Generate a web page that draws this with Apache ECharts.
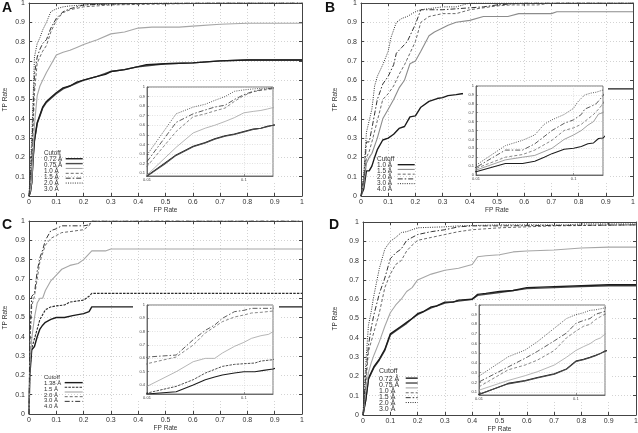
<!DOCTYPE html>
<html><head><meta charset="utf-8">
<script src="https://cdn.jsdelivr.net/npm/echarts@6/dist/echarts.min.js"></script>
<style>html,body{margin:0;padding:0;background:#fff}#c{width:638px;height:433px}</style>
</head><body><div id="c"></div>
<script>
// ---------- series names ----------
const cutoffsAD = ['0.72 Å','0.75 Å','1.0 Å','1.5 Å','2.0 Å','3.0 Å'];
const cutoffsB  = ['1.0 Å','1.5 Å','2.0 Å','3.0 Å','4.0 Å'];
const cutoffsC  = ['1.38 Å','1.5 Å','2.0 Å','3.0 Å','4.0 Å'];

// ---------- Panel A: [FP rate, TP rate] ----------
const A_072 = [[0,0],[0.005,0.02],[0.01,0.07],[0.015,0.2],[0.02,0.29],[0.03,0.38],[0.04,0.42],[0.05,0.46],[0.064,0.49],[0.08,0.51],[0.1,0.535],[0.125,0.56],[0.15,0.57],[0.175,0.59],[0.2,0.6],[0.25,0.62],[0.28,0.63],[0.3,0.645],[0.35,0.655],[0.4,0.67],[0.43,0.68],[0.5,0.685],[0.6,0.69],[0.7,0.7],[0.8,0.705],[1,0.705]];
const A_075 = [[0,0],[0.005,0.02],[0.01,0.07],[0.015,0.19],[0.02,0.285],[0.03,0.375],[0.04,0.415],[0.05,0.455],[0.064,0.485],[0.08,0.505],[0.1,0.53],[0.125,0.555],[0.15,0.57],[0.175,0.585],[0.2,0.6],[0.25,0.62],[0.3,0.645],[0.35,0.655],[0.4,0.67],[0.5,0.685],[0.6,0.69],[0.7,0.7],[0.8,0.705],[1,0.705]];
const A_10  = [[0,0],[0.005,0.03],[0.01,0.08],[0.02,0.37],[0.03,0.52],[0.04,0.57],[0.05,0.6],[0.064,0.64],[0.08,0.68],[0.1,0.73],[0.125,0.745],[0.15,0.755],[0.175,0.77],[0.2,0.785],[0.25,0.81],[0.3,0.84],[0.35,0.85],[0.4,0.87],[0.45,0.875],[0.55,0.875],[0.6,0.88],[0.7,0.89],[0.8,0.895],[1,0.895]];
const A_15  = [[0,0],[0.005,0.08],[0.01,0.17],[0.02,0.535],[0.03,0.69],[0.04,0.72],[0.05,0.75],[0.064,0.78],[0.08,0.85],[0.1,0.91],[0.125,0.95],[0.15,0.965],[0.2,0.98],[0.3,0.99],[0.5,0.995],[0.7,1],[1,1]];
const A_20  = [[0,0],[0.005,0.1],[0.01,0.22],[0.02,0.63],[0.03,0.72],[0.04,0.76],[0.05,0.79],[0.064,0.81],[0.08,0.87],[0.1,0.92],[0.125,0.955],[0.15,0.97],[0.2,0.99],[0.3,0.995],[0.6,1],[1,1]];
const A_30  = [[0,0],[0.005,0.15],[0.01,0.29],[0.02,0.72],[0.03,0.79],[0.04,0.82],[0.05,0.86],[0.064,0.9],[0.08,0.955],[0.1,0.97],[0.125,0.98],[0.15,0.985],[0.2,0.99],[0.3,0.995],[0.5,1],[1,1]];

// ---------- Panel B ----------
const B_10 = [[0,0],[0.005,0.02],[0.01,0.037],[0.02,0.13],[0.03,0.13],[0.04,0.155],[0.05,0.2],[0.06,0.24],[0.08,0.29],[0.1,0.3],[0.12,0.32],[0.14,0.35],[0.16,0.36],[0.18,0.41],[0.2,0.415],[0.22,0.46],[0.25,0.49],[0.28,0.505],[0.3,0.51],[0.32,0.52],[0.35,0.525],[0.37,0.53],[0.5,0.54],[0.7,0.55],[0.9,0.555],[1,0.555]];
const B_15 = [[0,0],[0.005,0.03],[0.01,0.055],[0.02,0.17],[0.03,0.2],[0.04,0.22],[0.06,0.3],[0.08,0.4],[0.1,0.45],[0.12,0.5],[0.14,0.56],[0.16,0.6],[0.18,0.685],[0.2,0.7],[0.22,0.75],[0.25,0.83],[0.27,0.85],[0.3,0.87],[0.32,0.885],[0.35,0.9],[0.4,0.91],[0.45,0.93],[0.54,0.93],[0.58,0.945],[0.7,0.945],[0.72,0.955],[1,0.955]];
const B_20 = [[0,0],[0.005,0.04],[0.01,0.074],[0.02,0.2],[0.03,0.23],[0.04,0.28],[0.06,0.39],[0.08,0.5],[0.1,0.53],[0.12,0.57],[0.14,0.63],[0.16,0.68],[0.18,0.74],[0.2,0.8],[0.22,0.9],[0.25,0.93],[0.3,0.945],[0.35,0.945],[0.4,0.965],[0.5,0.985],[0.55,0.99],[0.65,0.99],[0.7,1],[1,1]];
const B_30 = [[0,0],[0.005,0.05],[0.01,0.085],[0.02,0.28],[0.03,0.28],[0.04,0.35],[0.06,0.5],[0.08,0.58],[0.1,0.62],[0.12,0.68],[0.13,0.74],[0.15,0.77],[0.17,0.8],[0.2,0.89],[0.22,0.965],[0.3,0.965],[0.35,0.97],[0.4,0.975],[0.45,0.98],[0.5,0.99],[0.6,1],[1,1]];
const B_40 = [[0,0],[0.005,0.06],[0.01,0.11],[0.02,0.33],[0.03,0.39],[0.04,0.45],[0.05,0.57],[0.06,0.62],[0.08,0.68],[0.1,0.75],[0.11,0.82],[0.13,0.9],[0.15,0.92],[0.17,0.93],[0.2,0.955],[0.22,0.965],[0.3,0.98],[0.35,0.98],[0.4,1],[1,1]];

// ---------- Panel C ----------
const C_138 = [[0,0],[0.003,0.2],[0.01,0.333],[0.02,0.35],[0.03,0.4],[0.04,0.44],[0.05,0.46],[0.06,0.475],[0.08,0.49],[0.1,0.5],[0.13,0.5],[0.16,0.51],[0.2,0.52],[0.22,0.53],[0.23,0.555],[1,0.555]];
const C_15  = [[0,0],[0.003,0.22],[0.01,0.34],[0.02,0.39],[0.03,0.44],[0.04,0.49],[0.06,0.54],[0.08,0.555],[0.1,0.56],[0.13,0.565],[0.15,0.58],[0.2,0.59],[0.22,0.61],[0.23,0.625],[1,0.625]];
const C_20  = [[0,0],[0.003,0.25],[0.01,0.39],[0.02,0.5],[0.03,0.575],[0.04,0.6],[0.05,0.6],[0.06,0.64],[0.08,0.69],[0.1,0.72],[0.12,0.75],[0.15,0.77],[0.18,0.78],[0.2,0.8],[0.23,0.845],[0.28,0.845],[0.3,0.855],[1,0.855]];
const C_30  = [[0,0],[0.003,0.35],[0.01,0.56],[0.02,0.61],[0.03,0.7],[0.04,0.79],[0.06,0.875],[0.08,0.91],[0.1,0.925],[0.12,0.94],[0.15,0.945],[0.2,0.955],[0.22,0.975],[0.23,1],[1,1]];
const C_40  = [[0,0],[0.003,0.4],[0.01,0.61],[0.02,0.625],[0.03,0.74],[0.04,0.81],[0.05,0.85],[0.06,0.9],[0.08,0.95],[0.1,0.96],[0.12,0.975],[0.2,0.975],[0.22,0.98],[0.23,1],[1,1]];

// ---------- Panel D ----------
const D_072 = [[0,0],[0.005,0.04],[0.01,0.076],[0.02,0.19],[0.03,0.22],[0.04,0.25],[0.06,0.29],[0.08,0.34],[0.1,0.42],[0.12,0.44],[0.14,0.46],[0.16,0.48],[0.18,0.5],[0.2,0.525],[0.22,0.535],[0.25,0.56],[0.27,0.565],[0.3,0.585],[0.33,0.585],[0.35,0.595],[0.4,0.6],[0.42,0.625],[0.45,0.63],[0.5,0.64],[0.55,0.645],[0.6,0.66],[0.7,0.665],[0.8,0.67],[0.9,0.675],[1,0.675]];
const D_075 = [[0,0],[0.005,0.04],[0.01,0.078],[0.02,0.185],[0.03,0.215],[0.04,0.245],[0.06,0.285],[0.08,0.335],[0.1,0.415],[0.12,0.435],[0.14,0.455],[0.16,0.475],[0.18,0.5],[0.2,0.52],[0.25,0.555],[0.3,0.58],[0.35,0.59],[0.4,0.6],[0.42,0.62],[0.5,0.635],[0.6,0.655],[0.7,0.66],[0.8,0.665],[0.9,0.67],[1,0.67]];
const D_10  = [[0,0],[0.005,0.06],[0.01,0.12],[0.02,0.22],[0.03,0.27],[0.04,0.31],[0.06,0.38],[0.08,0.46],[0.1,0.53],[0.12,0.57],[0.14,0.6],[0.16,0.64],[0.18,0.66],[0.2,0.7],[0.25,0.73],[0.3,0.75],[0.35,0.76],[0.4,0.78],[0.42,0.82],[0.45,0.825],[0.5,0.83],[0.55,0.845],[0.6,0.85],[0.7,0.855],[0.8,0.865],[0.9,0.87],[1,0.87]];
const D_15  = [[0,0],[0.005,0.08],[0.01,0.155],[0.02,0.33],[0.03,0.38],[0.04,0.43],[0.06,0.53],[0.08,0.66],[0.1,0.73],[0.12,0.78],[0.14,0.8],[0.16,0.85],[0.18,0.88],[0.2,0.905],[0.25,0.92],[0.3,0.935],[0.35,0.95],[0.4,0.96],[0.5,0.97],[0.6,0.975],[0.7,0.98],[1,0.985]];
const D_20  = [[0,0],[0.005,0.1],[0.01,0.205],[0.02,0.36],[0.03,0.45],[0.04,0.52],[0.06,0.63],[0.08,0.71],[0.1,0.81],[0.12,0.84],[0.14,0.86],[0.16,0.905],[0.18,0.92],[0.2,0.935],[0.25,0.95],[0.3,0.96],[0.35,0.975],[0.4,0.98],[0.5,0.98],[1,0.985]];
const D_30  = [[0,0],[0.005,0.14],[0.01,0.265],[0.02,0.465],[0.03,0.535],[0.04,0.62],[0.06,0.76],[0.08,0.86],[0.1,0.9],[0.12,0.92],[0.14,0.945],[0.16,0.95],[0.2,0.97],[0.3,0.975],[0.35,0.98],[0.5,0.985],[0.75,0.985],[0.8,0.99],[1,0.99]];

// ---------- styles ----------
const FONT = '"Liberation Sans", Arial, Helvetica, sans-serif';
const ST = {
  black:    {color:'#1c1c1c', width:1.4, type:'solid'},
  dark:     {color:'#4a4a4a', width:1.4, type:'solid'},
  light:    {color:'#a6a6a6', width:1.1, type:'solid'},
  mid:      {color:'#8c8c8c', width:1.1, type:'solid'},
  dash:     {color:'#6a6a6a', width:1, type:[3,2]},
  dashDark: {color:'#2a2a2a', width:1.1, type:[2.5,1.2]},
  dashdot:  {color:'#333333', width:1, type:[5,2,1.5,2]},
  dot:      {color:'#333333', width:1, type:[1,1.3]}
};
const stylesAD = [ST.black, ST.dark, ST.light, ST.dash, ST.dashdot, ST.dot];
const stylesB  = [ST.black, ST.mid, ST.dash, ST.dashdot, ST.dot];
const stylesC  = [ST.black, ST.dashDark, ST.light, ST.dash, ST.dashdot];

const panels = [
  {letter:'A', letterPos:{left:2,top:1}, names:cutoffsAD, data:[A_072,A_075,A_10,A_15,A_20,A_30], styles:stylesAD,
   grid:{left:29,top:3,width:273,height:193}, yNameGap:20, xNameGap:11,
   cover:{left:138,top:84,width:140,height:98}, inset:{left:147,top:87,width:126,height:89}, inYMin:0.07, inSplit:9,
   key:{textLeft:44, cutoffTop:150.3, rowsTop:156.3, row:6.08, iconLeft:65, iconW:17, font:6.3}},
  {letter:'B', letterPos:{left:325,top:1}, names:cutoffsB, data:[B_10,B_15,B_20,B_30,B_40], styles:stylesB,
   grid:{left:361,top:3,width:272,height:193}, yNameGap:22, xNameGap:11,
   cover:{left:463,top:83,width:145,height:99}, inset:{left:476,top:86,width:127,height:89}, inYMin:0, inSplit:10,
   key:{textLeft:377, cutoffTop:156.3, rowsTop:162.3, row:5.93, iconLeft:397, iconW:17, font:6.5}},
  {letter:'C', letterPos:{left:2,top:218}, names:cutoffsC, data:[C_138,C_15,C_20,C_30,C_40], styles:stylesC,
   grid:{left:29,top:221,width:273,height:193}, yNameGap:20, xNameGap:10.5,
   cover:{left:133,top:302,width:146,height:98}, inset:{left:147,top:305,width:126,height:89}, inYMin:0.333, inSplit:6,
   key:{textLeft:44, cutoffTop:374.7, rowsTop:380.3, row:5.85, iconLeft:64, iconW:18, font:6}},
  {letter:'D', letterPos:{left:329,top:218}, names:cutoffsAD, data:[D_072,D_075,D_10,D_15,D_20,D_30], styles:stylesAD,
   grid:{left:363,top:222,width:273,height:193}, yNameGap:24, xNameGap:10.5,
   cover:{left:468,top:302,width:143,height:100}, inset:{left:479,top:305,width:126,height:90}, inYMin:0.07, inSplit:9,
   key:{textLeft:379, cutoffTop:368.3, rowsTop:375.7, row:6.1, iconLeft:405, iconW:12, font:7}}
];

const grid = [], xAxis = [], yAxis = [], series = [], legend = [], title = [];
const axisCol = '#444';
const gridLine = {show:true, lineStyle:{color:'#c8c8c8', width:0.8, type:[1,2]}};

panels.forEach((p, pi) => {
  const gM = grid.length;
  grid.push(Object.assign({outerBoundsMode:'none', containLabel:false, show:false}, p.grid));
  const xM = xAxis.length, yM = yAxis.length;
  const common = {gridIndex:gM, type:'value', min:0, max:1, interval:0.1};
  xAxis.push(Object.assign({}, common, {position:'bottom', name:'FP Rate', nameLocation:'middle', nameGap:p.xNameGap,
    nameTextStyle:{fontSize:6.5, color:'#333', fontFamily:FONT},
    axisLine:{show:true, onZero:false, lineStyle:{color:axisCol, width:1}},
    axisTick:{show:true, inside:true, length:3, lineStyle:{color:axisCol}},
    axisLabel:{show:true, fontSize:7, color:'#333', margin:3, fontFamily:FONT},
    splitLine:gridLine}));
  xAxis.push(Object.assign({}, common, {position:'top',
    axisLine:{show:true, onZero:false, lineStyle:{color:axisCol, width:1}},
    axisTick:{show:true, inside:true, length:3, lineStyle:{color:axisCol}},
    axisLabel:{show:false}, splitLine:{show:false}}));
  yAxis.push(Object.assign({}, common, {position:'left', name:'TP Rate', nameLocation:'middle', nameGap:p.yNameGap,
    nameTextStyle:{fontSize:6.5, color:'#333', fontFamily:FONT},
    axisLine:{show:true, onZero:false, lineStyle:{color:axisCol, width:1}},
    axisTick:{show:true, inside:true, length:3, lineStyle:{color:axisCol}},
    axisLabel:{show:true, fontSize:7, color:'#333', margin:4, fontFamily:FONT},
    splitLine:gridLine}));
  yAxis.push(Object.assign({}, common, {position:'right',
    axisLine:{show:true, onZero:false, lineStyle:{color:axisCol, width:1}},
    axisTick:{show:true, inside:true, length:3, lineStyle:{color:axisCol}},
    axisLabel:{show:false}, splitLine:{show:false}}));

  // white cover under inset
  grid.push(Object.assign({outerBoundsMode:'none', show:true, backgroundColor:'#ffffff', borderWidth:0, z:3}, p.cover));

  // inset grid
  const gI = grid.length;
  grid.push(Object.assign({outerBoundsMode:'none', show:true, backgroundColor:'transparent', borderColor:'#555', borderWidth:0.8, z:4}, p.inset));
  const xI = xAxis.length, yI = yAxis.length;
  xAxis.push({gridIndex:gI, type:'log', logBase:10, min:0.01, max:0.2, position:'bottom', z:4,
    axisLine:{show:true, onZero:false, lineStyle:{color:'#555', width:0.8}},
    axisTick:{show:true, inside:true, length:2, lineStyle:{color:'#555', width:0.6}},
    axisLabel:{show:true, fontSize:4, color:'#444', margin:2, fontFamily:FONT, showMaxLabel:false},
    splitLine:{show:true, lineStyle:{color:'#cfcfcf', width:0.6, type:[1,1.5]}}});
  const yIn = {gridIndex:gI, type:'value', min:p.inYMin, max:1, position:'left', z:4,
    axisLine:{show:true, onZero:false, lineStyle:{color:'#555', width:0.8}},
    axisTick:{show:true, inside:true, length:2, lineStyle:{color:'#555', width:0.6}},
    axisLabel:{show:true, fontSize:4, color:'#444', margin:2, fontFamily:FONT, showMinLabel:p.inYMin === 0 ? true : false},
    splitLine:{show:true, lineStyle:{color:'#cfcfcf', width:0.6, type:[1,1.5]}}};
  if (p.inYMin === 0) yIn.interval = 0.1; else yIn.splitNumber = p.inSplit;
  yAxis.push(yIn);

  const legendNames = [];
  p.data.forEach((d, si) => {
    const st = p.styles[si];
    const nm = p.names[si] + '\u200b'.repeat(pi);
    legendNames.push(nm);
    series.push({type:'line', name:nm, xAxisIndex:xM, yAxisIndex:yM, data:d,
      symbol:'none', showSymbol:false, silent:true, animation:false, z:(si === 1 && p.names[si] === '0.75 Å') ? 1 : 2,
      lineStyle:{color:st.color, width:st.width, type:st.type}, itemStyle:{color:st.color}});
    series.push({type:'line', name:nm + ' inset', xAxisIndex:xI, yAxisIndex:yI, data:d.filter(pt => pt[0] > 0),
      symbol:'none', showSymbol:false, silent:true, animation:false, z:5, clip:true,
      lineStyle:{color:st.color, width:Math.max(0.8, st.width * 0.75), type:st.type}, itemStyle:{color:st.color}});
  });

  const k = p.key;
  // legend draws the line samples; the labels are a left-aligned text block beside them
  legend.push({orient:'vertical', left:k.iconLeft, top:k.rowsTop, align:'left', padding:0,
    itemWidth:k.iconW, itemHeight:k.row, itemGap:0, selectedMode:false, z:6,
    data:legendNames,
    formatter: () => '',
    textStyle:{fontSize:1, lineHeight:1, color:'#333'},
    itemStyle:{opacity:0},
    lineStyle:{width:'inherit'}});

  title.push({text:p.letter, left:p.letterPos.left, top:p.letterPos.top, padding:0,
    textStyle:{fontSize:14, fontWeight:'bold', color:'#111', fontFamily:FONT}});
  title.push({text:'Cutoff', left:k.textLeft, top:k.cutoffTop, padding:0,
    textStyle:{fontSize:k.font, lineHeight:6, fontWeight:'normal', color:'#333', fontFamily:FONT}});
  title.push({text:p.names.join('\n'), left:k.textLeft, top:k.rowsTop, padding:0,
    textStyle:{fontSize:k.font, lineHeight:k.row, fontWeight:'normal', color:'#333', fontFamily:FONT}});
});

const chart = echarts.init(document.getElementById('c'), null, {renderer:'canvas'});
chart.setOption({
  backgroundColor:'#ffffff',
  animation:false,
  textStyle:{fontFamily:FONT},
  title, grid, xAxis, yAxis, series, legend,
  tooltip:{show:false}
});
</script>
</body></html>
